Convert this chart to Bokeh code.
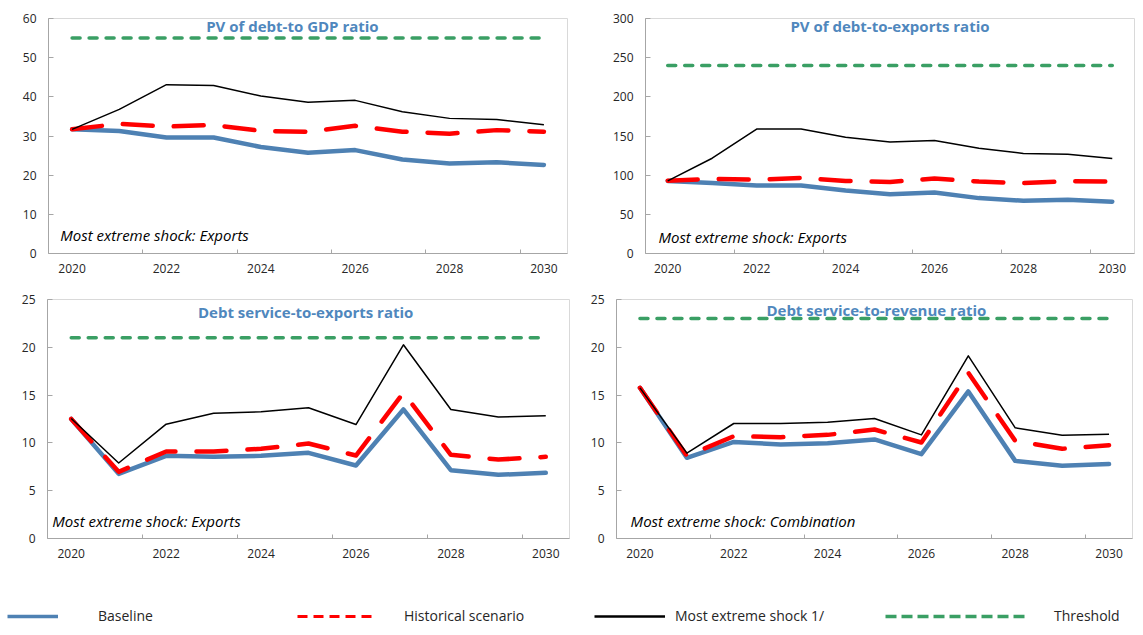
from bokeh.plotting import figure
from bokeh.models import Range1d, FixedTicker, Label, Legend, LegendItem
from bokeh.layouts import row, column
from bokeh.embed import file_html
from bokeh.resources import INLINE

years = list(range(2020, 2031))
x_tick_years = [2020, 2022, 2024, 2026, 2028, 2030]
boundary_ticks = [2021.5, 2023.5, 2025.5, 2027.5, 2029.5]

# PV of debt-to GDP ratio
gdp_baseline = [31.7, 31.3, 29.6, 29.6, 27.2, 25.7, 26.4, 24.0, 23.0, 23.3, 22.6]
gdp_historical = [31.7, 33.1, 32.4, 32.8, 31.3, 31.1, 32.6, 31.1, 30.6, 31.5, 31.1]
gdp_extreme = [31.7, 36.8, 43.1, 42.9, 40.2, 38.6, 39.1, 36.2, 34.5, 34.2, 32.9]
gdp_threshold = 55

# PV of debt-to-exports ratio
exp_baseline = [92.7, 90.0, 86.9, 86.9, 80.3, 75.7, 77.8, 70.7, 67.4, 68.7, 66.2]
exp_historical = [93.0, 95.2, 94.3, 96.4, 92.7, 91.4, 95.6, 91.9, 89.8, 92.3, 91.9]
exp_extreme = [92.7, 121.6, 158.9, 158.9, 148.5, 142.3, 144.4, 134.5, 127.8, 126.6, 121.2]
exp_threshold = 240

# Debt service-to-exports ratio
dse_baseline = [12.5, 6.76, 8.65, 8.54, 8.65, 8.96, 7.64, 13.5, 7.15, 6.66, 6.87]
dse_historical = [12.5, 6.97, 9.1, 9.1, 9.38, 9.94, 8.68, 15.24, 8.75, 8.26, 8.54]
dse_extreme = [12.55, 7.9, 11.96, 13.1, 13.25, 13.67, 11.92, 20.26, 13.5, 12.7, 12.83]
dse_threshold = 21

# Debt service-to-revenue ratio
dsr_baseline = [15.76, 8.44, 10.1, 9.83, 9.97, 10.36, 8.82, 15.38, 8.12, 7.6, 7.78]
dsr_historical = [15.76, 8.65, 10.7, 10.6, 10.84, 11.4, 10.04, 17.33, 10.22, 9.38, 9.76]
dsr_extreme = [15.76, 8.93, 12.03, 12.03, 12.17, 12.55, 10.84, 19.1, 11.58, 10.8, 10.91]
dsr_threshold = 23

titles = ["PV of debt-to GDP ratio", "PV of debt-to-exports ratio",
          "Debt service-to-exports ratio", "Debt service-to-revenue ratio"]
notes = ["Most extreme shock: Exports", "Most extreme shock: Exports",
         "Most extreme shock: Exports", "Most extreme shock: Combination"]
legend_labels = ["Baseline", "Historical scenario", "Most extreme shock 1/", "Threshold"]

BLUE = "#4E81B3"
TITLE_BLUE = "#4F87BD"
RED = "#FF0000"
GREEN = "#3A9F64"
AXIS = "#A6A6A6"
FRAME = "#D9D9D9"
TXT = "#262626"
FONT = "Open Sans"


def make_panel(w, h, bl, br, bt, bb, ymax, ystep, base, hist, ext, thr,
               title, tx, ty, note, nx, ny):
    p = figure(width=w, height=h, x_range=Range1d(2019.5, 2030.5),
               y_range=Range1d(0, ymax), output_backend="svg",
               toolbar_location=None, min_border_left=bl, min_border_right=br,
               min_border_top=bt, min_border_bottom=bb)
    p.grid.visible = False
    p.outline_line_color = FRAME
    p.background_fill_color = "white"
    p.border_fill_color = "white"

    xa = p.xaxis[0]
    xa.ticker = FixedTicker(ticks=x_tick_years, minor_ticks=boundary_ticks)
    xa.major_tick_in = 0
    xa.major_tick_out = 0
    xa.minor_tick_in = 4
    xa.minor_tick_out = 0
    xa.minor_tick_line_color = AXIS
    xa.axis_line_color = AXIS
    xa.major_label_standoff = 10
    xa.major_label_text_font = FONT
    xa.major_label_text_font_size = "12px"
    xa.major_label_text_color = TXT

    ya = p.yaxis[0]
    ya.ticker = FixedTicker(ticks=list(range(0, ymax + 1, ystep)))
    ya.major_tick_in = 5
    ya.major_tick_out = 0
    ya.major_tick_line_color = AXIS
    ya.minor_tick_line_color = None
    ya.axis_line_color = AXIS
    ya.major_label_standoff = 12
    ya.major_label_text_font = FONT
    ya.major_label_text_font_size = "12px"
    ya.major_label_text_color = TXT

    p.line(years, [thr] * len(years), line_color=GREEN, line_width=3.5,
           line_dash="8 9", line_cap="round")
    p.line(years, base, line_color=BLUE, line_width=4.5, line_join="round",
           line_cap="round")
    p.line(years, hist, line_color=RED, line_width=4.5, line_dash="30 21",
           line_join="round", line_cap="round")
    p.line(years, ext, line_color="black", line_width=1.5, line_join="round")

    p.add_layout(Label(x=tx, y=ty, text=title, text_align="center",
                       text_baseline="middle", text_font=FONT,
                       text_font_style="bold", text_font_size="15px",
                       text_color=TITLE_BLUE))
    p.add_layout(Label(x=nx, y=ny, text=note, text_align="left",
                       text_baseline="middle", text_font=FONT,
                       text_font_style="italic", text_font_size="15px",
                       text_color="black"))
    return p


p1 = make_panel(575, 290, 48, 8, 18, 37, 60, 10, gdp_baseline, gdp_historical,
                gdp_extreme, gdp_threshold, titles[0], 2024.67, 58.2,
                notes[0], 2019.75, 4.6)
p2 = make_panel(560, 290, 70, 1, 15, 34, 300, 50, exp_baseline, exp_historical,
                exp_extreme, exp_threshold, titles[1], 2025.0, 291.0,
                notes[1], 2019.79, 21.0)
p3 = make_panel(575, 296, 47, 6, 9, 48, 25, 5, dse_baseline, dse_historical,
                dse_extreme, dse_threshold, titles[2], 2024.94, 23.7,
                notes[2], 2019.6, 1.78)
p4 = make_panel(560, 296, 41, 3, 9, 48, 25, 5, dsr_baseline, dsr_historical,
                dsr_extreme, dsr_threshold, titles[3], 2025.04, 23.95,
                notes[3], 2019.8, 1.78)

# Legend strip (sample renderers sit outside the visible range)
lp = figure(width=1135, height=39, x_range=Range1d(0, 1), y_range=Range1d(0, 1),
            output_backend="svg", toolbar_location=None, min_border=0,
            x_axis_location=None, y_axis_location=None)
lp.outline_line_color = None
lp.grid.visible = False
r_base = lp.line(years, gdp_baseline, line_color=BLUE, line_width=3.5)
r_hist = lp.line(years, gdp_historical, line_color=RED, line_width=3, line_dash="10 6")
r_ext = lp.line(years, gdp_extreme, line_color="black", line_width=2.5)
r_thr = lp.line(years, [gdp_threshold] * len(years), line_color=GREEN,
                line_width=3.5, line_dash="11 5")

specs = [(r_base, legend_labels[0], 7, 51, 40),
         (r_hist, legend_labels[1], 297, 78, 29),
         (r_ext, legend_labels[2], 594, 71, 10),
         (r_thr, legend_labels[3], 885, 142, 27)]
for r, lab, lx, gw, so in specs:
    lg = Legend(items=[LegendItem(label=lab, renderers=[r])], location=(lx, 0),
                orientation="horizontal", glyph_width=gw, glyph_height=16,
                label_height=16, label_standoff=so, padding=0, margin=0,
                spacing=0, border_line_color=None, background_fill_alpha=0,
                label_text_font=FONT, label_text_font_size="14px",
                label_text_color=TXT)
    lp.add_layout(lg)

layout = column(row(p1, p2), row(p3, p4), lp)
open("out.html", "w").write(file_html(layout, INLINE))
